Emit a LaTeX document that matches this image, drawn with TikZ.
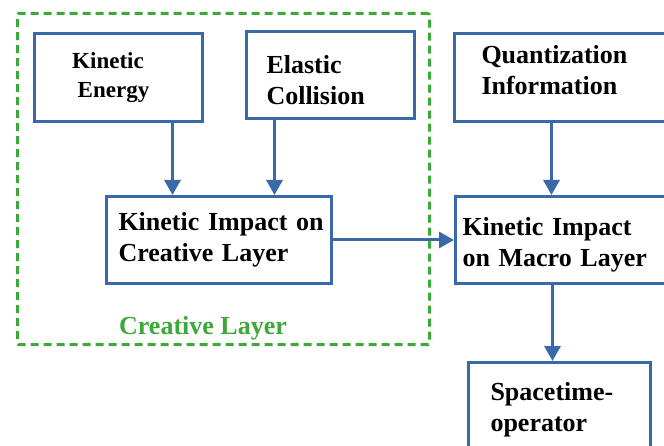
\documentclass[tikz,border=0pt]{standalone}
\usepackage{fontspec}
\setmainfont{Liberation Serif}
\usepackage{xcolor}
\definecolor{BoxBlue}{HTML}{3A69A9}
\definecolor{LayerGreen}{HTML}{3CA938}
\usetikzlibrary{arrows.meta}
\usetikzlibrary{calc}

\begin{document}
\begin{tikzpicture}[x=1pt,y=-1pt,
    block/.style={shape=rectangle,
      draw=BoxBlue,
      line width=3pt,
      anchor=north west,
      align=left,
      inner ysep=0pt,
      font=\fontsize{26pt}{31pt}\selectfont\bfseries},
    flow/.style={draw=BoxBlue,
      line width=3pt,
      -{Triangle[width=16pt,length=15pt]}}]
    \clip (0,0) rectangle (664,446);

    \node[name=creative,
      shape=rectangle,
      draw=LayerGreen,
      line width=3pt,
      dash pattern=on 8pt off 5pt,
      rounded corners=1pt,
      minimum width=412pt,
      minimum height=331pt,
      anchor=north west] at (16,12) {};

    \node[name=creativelbl,
      text=LayerGreen,
      font=\fontsize{26pt}{31pt}\selectfont\bfseries] at (203,328) {Creative Layer};

    \node[name=energy,
      block,
      align=center,
      minimum width=168pt,
      minimum height=88pt,
      text width=144pt,
      inner xsep=12pt,
      font=\fontsize{23pt}{29pt}\selectfont\bfseries] at (33,32) {\hspace*{-21pt}Kinetic\\\hspace*{-10pt}Energy};

    \node[name=collision,
      block,
      minimum width=168pt,
      minimum height=87pt,
      text width=128pt,
      inner xsep=20pt] at (245,30) {\mbox{}\\[-3pt]Elastic\\Collision};

    \node[name=impactc,
      block,
      minimum width=225pt,
      minimum height=87pt,
      text width=201pt,
      inner xsep=12pt] at (105,195) {\mbox{Kinetic Impact on}\\Creative Layer};

    \node[name=quant,
      block,
      minimum width=230pt,
      minimum height=88pt,
      text width=176pt,
      inner xsep=27pt] at (453,32) {Quantization\\Information\\[-15pt]\mbox{}};

    \node[name=impactm,
      block,
      minimum width=230pt,
      minimum height=87pt,
      text width=216pt,
      inner xsep=7pt] at (454,195) {\mbox{}\\[-3pt]Kinetic Impact\\on Macro Layer};

    \node[name=spacetime,
      block,
      minimum width=182pt,
      minimum height=95pt,
      text width=138pt,
      inner xsep=22pt] at (467,361) {Spacetime-\\operator};

    \draw[flow] ([xshift=54pt]energy.south) -- ([xshift=54pt]energy.south |- impactc.north);
    \draw[flow] ([xshift=-56pt]collision.south) -- ([xshift=-56pt]collision.south |- impactc.north);
    \draw[flow] (impactc.east) -- (impactm.west);
    \draw[flow] ([xshift=-18pt]quant.south) -- ([xshift=-18pt]quant.south |- impactm.north);
    \draw[flow] ([xshift=-18pt]impactm.south) -- ([xshift=-18pt]impactm.south |- spacetime.north);
  \end{tikzpicture}
\end{document}
